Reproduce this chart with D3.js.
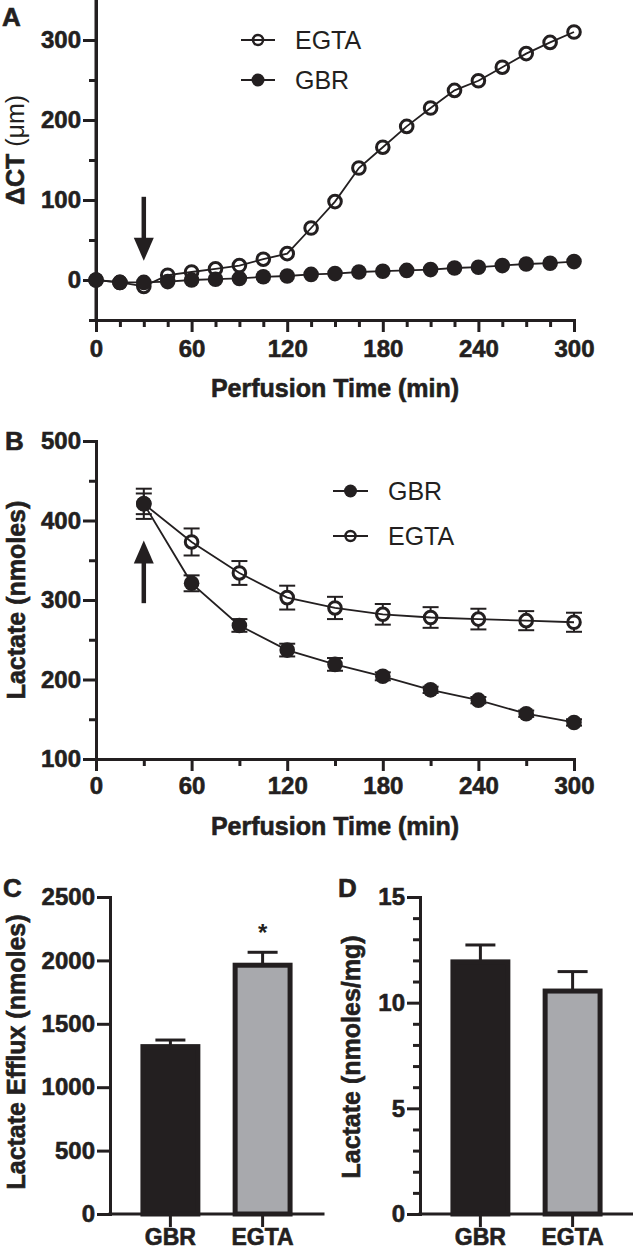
<!DOCTYPE html>
<html>
<head>
<meta charset="utf-8">
<script src="https://cdn.jsdelivr.net/npm/d3@7"></script>
<style>
  html, body { margin: 0; padding: 0; background: #fff; }
  svg { display: block; }
  text { font-family: "Liberation Sans", Arial, sans-serif; fill: #231f20; }
  .heavy { stroke: #231f20; stroke-width: 0.6px; }
</style>
</head>
<body>
<svg id="chart" width="633" height="1253"></svg>
<script>
// ---------------- DATA ----------------
// Panel A: ΔCT (µm) vs perfusion time (every 15 min)
const timeA = [0,15,30,45,60,75,90,105,120,135,150,165,180,195,210,225,240,255,270,285,300];
const egtaA = [0,-3,-8,6,10,14,18,26,33,65,98,140,166,192,215,237,249,266,283,297,310];
const gbrA  = [0,-3,-3,-2,0,1,2,4,5,7,8,10,11,12,13,15,16,18,20,21,23];
const yTicksA = [0,100,200,300];
const yMinorA = [-50,50,150,250];
const xTicksAB = [0,60,120,180,240,300];
const xMinorA = [15,30,45,75,90,105,135,150,165,195,210,225,255,270,285];
const arrowA = {t: 30, from: 104, to: 24};

// Panel B: Lactate (nmoles) vs perfusion time (every 30 min)
const timeB = [30,60,90,120,150,180,210,240,270,300];
const gbrB     = [421,321,268,237,219,204,187,174,157,146];
const gbrBerr  = [13,10,8,8,8,5,4,4,4,4];
const egtaB    = [421,373,334,303,290,282,278,276,274,272];
const egtaBerr = [19,17,15,15,14,13,13,13,12,12];
const yTicksB = [100,200,300,400,500];
const yMinorB = [150,250,350,450];
const xMinorB = [30,90,150,210,270];
const arrowB = {t: 30, from: 296, to: 375};

// Panel C: Lactate efflux (nmoles)
const groups = ["GBR","EGTA"];
const effluxC    = [1320, 1962];
const effluxCerr = [52, 102];
const yTicksC = [0,500,1000,1500,2000,2500];

// Panel D: Lactate (nmoles/mg)
const lactD    = [11.93, 10.55];
const lactDerr = [0.80, 0.92];
const yTicksD = [0,5,10,15];
const yMinorD = [1,2,3,4,6,7,8,9,11,12,13,14];

const barFill = {"GBR": "#231f20", "EGTA": "#a8a9ad"};

// ---------------- DRAW ----------------
const INK = "#231f20";
const svg = d3.select("#chart");
const TICKFONT = 24, TITLEFONT = 25;

function styleAxis(g, fontSize) {
  g.selectAll(".domain").attr("stroke", INK).attr("stroke-width", 3).attr("stroke-linecap", "square");
  g.selectAll(".tick line").attr("stroke", INK).attr("stroke-width", 3);
  g.selectAll(".tick text").attr("fill", INK).attr("class", "heavy")
    .style("font-size", fontSize + "px").style("font-weight", "bold")
    .style("font-family", '"Liberation Sans", Arial, sans-serif');
}

function leftAxis(x0, y, major, minor, fmt) {
  if (minor && minor.length) {
    const gm = svg.append("g").attr("transform", `translate(${x0},0)`)
      .call(d3.axisLeft(y).tickValues(minor).tickSize(7).tickFormat(""));
    styleAxis(gm, TICKFONT);
    gm.select(".domain").remove();
  }
  const g = svg.append("g").attr("transform", `translate(${x0},0)`)
    .call(d3.axisLeft(y).tickValues(major).tickSize(13).tickSizeOuter(0).tickPadding(2).tickFormat(fmt || d3.format("d")));
  styleAxis(g, TICKFONT);
  return g;
}

function bottomAxis(y0, x, major, minor, pad) {
  if (minor && minor.length) {
    const gm = svg.append("g").attr("transform", `translate(0,${y0})`)
      .call(d3.axisBottom(x).tickValues(minor).tickSize(7).tickFormat(""));
    styleAxis(gm, TICKFONT);
    gm.select(".domain").remove();
  }
  const g = svg.append("g").attr("transform", `translate(0,${y0})`)
    .call(d3.axisBottom(x).tickValues(major).tickSize(12).tickSizeOuter(0).tickPadding(pad).tickFormat(d3.format("d")));
  styleAxis(g, TICKFONT);
  return g;
}

function yTitle(x, y, parts) {
  const t = svg.append("text").attr("transform", `translate(${x},${y}) rotate(-90)`)
    .attr("text-anchor", "middle").style("font-size", TITLEFONT + "px");
  parts.forEach(p => t.append("tspan").text(p.s).style("font-weight", p.w).attr("class", p.w === "bold" ? "heavy" : null));
}
function xTitle(x, y, s) {
  svg.append("text").attr("x", x).attr("y", y).attr("text-anchor", "middle").attr("class", "heavy")
    .style("font-size", TITLEFONT + "px").style("font-weight", "bold").text(s);
}
function panelLetter(x, y, s) {
  svg.append("text").attr("x", x).attr("y", y).attr("class", "heavy").style("font-size", "26px").style("font-weight", "bold").text(s);
}
function drawArrow(x, yFrom, yTo) {
  const dir = yTo > yFrom ? 1 : -1;
  const headLen = 23, headW = 10;
  const base = yTo - dir * headLen;
  svg.append("line").attr("x1", x).attr("x2", x).attr("y1", yFrom).attr("y2", base + dir * 2)
    .attr("stroke", INK).attr("stroke-width", 4.5);
  svg.append("path").attr("d", `M${x - headW},${base} L${x + headW},${base} L${x},${yTo} Z`).attr("fill", INK);
}

const OPEN_R = 6.3, FILL_R = 7.8, LINE_W = 1.8;

function series(x, y, ts, vs, errs, open, layer) {
  const pts = ts.map((t, i) => ({t, v: vs[i], e: errs ? errs[i] : 0}));
  if (layer === "err" && errs) {
    const g = svg.append("g").attr("stroke", INK).attr("stroke-width", 2);
    pts.forEach(p => {
      g.append("line").attr("x1", x(p.t)).attr("x2", x(p.t)).attr("y1", y(p.v - p.e)).attr("y2", y(p.v + p.e));
      [p.v - p.e, p.v + p.e].forEach(v => g.append("line").attr("x1", x(p.t) - 8).attr("x2", x(p.t) + 8).attr("y1", y(v)).attr("y2", y(v)));
    });
  }
  if (layer === "line") {
    svg.append("path").datum(pts).attr("fill", "none").attr("stroke", INK).attr("stroke-width", LINE_W)
      .attr("d", d3.line().x(d => x(d.t)).y(d => y(d.v)));
  }
  if (layer === "pts") {
    svg.append("g").selectAll("circle").data(pts).join("circle")
      .attr("cx", d => x(d.t)).attr("cy", d => y(d.v))
      .attr("r", open ? OPEN_R : FILL_R)
      .attr("fill", open ? "#fff" : INK)
      .attr("stroke", open ? INK : "none").attr("stroke-width", open ? 3 : 0);
  }
}

function legendItem(x1, x2, y, label, open) {
  svg.append("line").attr("x1", x1).attr("x2", x2).attr("y1", y).attr("y2", y).attr("stroke", INK).attr("stroke-width", 2);
  const cx = (x1 + x2) / 2;
  if (open) {
    svg.append("circle").attr("cx", cx).attr("cy", y).attr("r", 5).attr("fill", "#fff").attr("stroke", INK).attr("stroke-width", 2.5);
    svg.append("line").attr("x1", cx - 5).attr("x2", cx + 5).attr("y1", y).attr("y2", y).attr("stroke", INK).attr("stroke-width", 2);
  } else {
    svg.append("circle").attr("cx", cx).attr("cy", y).attr("r", 6.5).attr("fill", INK);
  }
  svg.append("text").attr("x", x2 + 20).attr("y", y).attr("dy", "0.36em").style("font-size", "25px").text(label);
}

// ---------- Panel A ----------
const xA = d3.scaleLinear().domain([0, 300]).range([96, 574]);
const yA = d3.scaleLinear().domain([-50, 350]).range([320, 0]);
leftAxis(96, yA, yTicksA, yMinorA);
bottomAxis(320, xA, xTicksAB, xMinorA, 8);
svg.append("line").attr("x1", 96).attr("x2", 96).attr("y1", yA(350)).attr("y2", yA(-50))
  .attr("stroke", INK).attr("stroke-width", 3);
yTitle(24, 150, [{s: "ΔCT ", w: "bold"}, {s: "(μm)", w: "normal"}]);
xTitle(335, 397, "Perfusion Time (min)");
panelLetter(2, 26, "A");
drawArrow(xA(arrowA.t), yA(arrowA.from), yA(arrowA.to));
series(xA, yA, timeA, egtaA, null, true, "pts");
series(xA, yA, timeA, egtaA, null, true, "line");
series(xA, yA, timeA, gbrA, null, false, "line");
series(xA, yA, timeA, gbrA, null, false, "pts");
legendItem(241, 275, 40, "EGTA", true);
legendItem(241, 275, 80, "GBR", false);

// ---------- Panel B ----------
const xB = d3.scaleLinear().domain([0, 300]).range([96, 574]);
const yB = d3.scaleLinear().domain([100, 500]).range([759, 441]);
leftAxis(96, yB, yTicksB, yMinorB);
bottomAxis(759, xB, xTicksAB, xMinorB, 6);
yTitle(25, 600, [{s: "Lactate (nmoles)", w: "bold"}]);
xTitle(335, 835, "Perfusion Time (min)");
panelLetter(5, 450, "B");
drawArrow(xB(arrowB.t), yB(arrowB.from), yB(arrowB.to));
series(xB, yB, timeB, egtaB, egtaBerr, true, "err");
series(xB, yB, timeB, gbrB, gbrBerr, false, "err");
series(xB, yB, timeB, egtaB, egtaBerr, true, "pts");
series(xB, yB, timeB, egtaB, egtaBerr, true, "line");
series(xB, yB, timeB, gbrB, gbrBerr, false, "line");
series(xB, yB, timeB, gbrB, gbrBerr, false, "pts");
legendItem(333, 368, 491, "GBR", false);
legendItem(333, 368, 536, "EGTA", true);

// ---------- Bar panels ----------
function barPanel(x0, x1, y, vals, errs, ticks, minor, fmt) {
  const xb = d3.scaleBand().domain(groups).range([x0, x1]).paddingInner(0.35).paddingOuter(0.33);
  const SW = 5;
  const ge = svg.append("g").attr("stroke", INK).attr("stroke-width", 3);
  groups.forEach((g, i) => {
    const cx = xb(g) + xb.bandwidth() / 2;
    ge.append("line").attr("x1", cx).attr("x2", cx).attr("y1", y(vals[i])).attr("y2", y(vals[i] + errs[i]));
    ge.append("line").attr("x1", cx - 15).attr("x2", cx + 15).attr("y1", y(vals[i] + errs[i])).attr("y2", y(vals[i] + errs[i]));
  });
  svg.append("g").selectAll("rect").data(groups).join("rect")
    .attr("x", d => xb(d) + SW / 2).attr("width", xb.bandwidth() - SW)
    .attr("y", (d, i) => y(vals[i])).attr("height", (d, i) => y(0) - y(vals[i]))
    .attr("fill", d => barFill[d]).attr("stroke", INK).attr("stroke-width", SW);
  leftAxis(x0, y, ticks, minor, fmt);
  const gx = svg.append("g").attr("transform", `translate(0,${y(0)})`)
    .call(d3.axisBottom(xb).tickSize(13).tickSizeOuter(0).tickPadding(2));
  styleAxis(gx, 23);
  gx.select(".domain").attr("d", `M${x0},0H${x1}`);
  return xb;
}

// Panel C
const yC = d3.scaleLinear().domain([0, 2500]).range([1214, 897]);
const xbC = barPanel(110, 323, yC, effluxC, effluxCerr, yTicksC, [], d3.format("d"));
yTitle(25, 1052, [{s: "Lactate Efflux (nmoles)", w: "bold"}]);
panelLetter(3, 897, "C");
svg.append("text").attr("x", xbC("EGTA") + xbC.bandwidth() / 2).attr("y", 941).attr("text-anchor", "middle")
  .style("font-size", "24px").style("font-weight", "bold").text("*");

// Panel D
const yD = d3.scaleLinear().domain([0, 15]).range([1214, 897]);
barPanel(420, 633, yD, lactD, lactDerr, yTicksD, yMinorD, d3.format("d"));
yTitle(360, 1057, [{s: "Lactate (nmoles/mg)", w: "bold"}]);
panelLetter(338, 897, "D");
</script>
</body>
</html>
